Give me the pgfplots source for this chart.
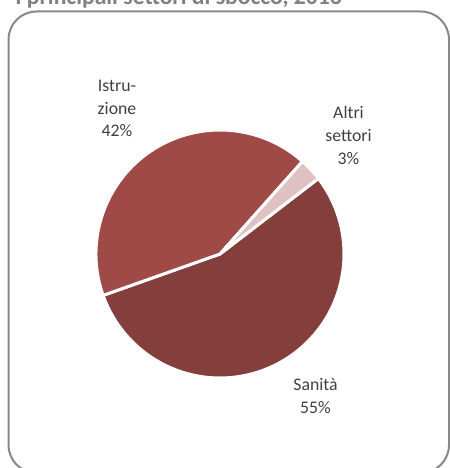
\documentclass[border=0pt]{standalone}
\usepackage{pgfplots}
\pgfplotsset{compat=1.18}
\usepackage{pgfplotstable}
\usepackage{fontspec}
\setmainfont{Carlito}

\definecolor{cSanita}{RGB}{132,63,61}
\definecolor{cIstruzione}{RGB}{159,74,71}
\definecolor{cAltri}{RGB}{224,193,193}
\definecolor{labelgray}{RGB}{64,64,64}
\definecolor{framegray}{RGB}{136,136,136}
\definecolor{titlegray}{RGB}{128,128,128}

% shares in percent, drawn clockwise from the start angle
\pgfplotstableread{
name       value  color
Sanita     55     cSanita
Istruzione 42     cIstruzione
Altri      3      cAltri
}\piedata

\begin{document}
\begin{tikzpicture}
\useasboundingbox (0,0) rectangle (337.5pt,351pt);
\clip (0,0) rectangle (337.5pt,351pt);
\begin{axis}[
  at={(0,0)}, anchor=south west,
  x=0.75pt, y=0.75pt,
  xmin=0, xmax=450, ymin=0, ymax=468,
  enlargelimits=false,
  hide axis, clip=false,
]
\draw[framegray, line width=1.5pt, rounded corners=21pt] (axis cs:8.5,-5) rectangle (axis cs:449,456.5);
\pgfplotsextra{
  \xdef\curang{37.5}
  \pgfplotstablegetrowsof{\piedata}
  \pgfmathtruncatemacro{\nrows}{\pgfplotsretval-1}
  \foreach \i in {0,...,\nrows}{
    \pgfplotstablegetelem{\i}{value}\of\piedata
    \pgfmathsetmacro{\sweep}{3.6*\pgfplotsretval}
    \pgfplotstablegetelem{\i}{color}\of\piedata
    \edef\slicecol{\pgfplotsretval}
    \pgfmathsetmacro{\endang}{\curang-\sweep}
    \fill[fill=\slicecol, draw=white, line width=2.25pt, line join=round]
      (axis cs:220,214) -- (axis cs:{220+124*cos(\curang)},{214+124*sin(\curang)})
      arc[start angle=\curang, end angle=\endang, radius=93pt] -- cycle;
    \xdef\curang{\endang}
  }
}
\node[anchor=base west, inner sep=0, font=\fontsize{17.7}{20}\selectfont\bfseries, text=titlegray] at (axis cs:15,463) {I principali settori di sbocco, 2013};
\node[font=\fontsize{13.3}{17}\selectfont, text=labelgray, align=center] at (axis cs:117,359.5) {Istru-\\zione\\42\%};
\node[font=\fontsize{13.3}{17}\selectfont, text=labelgray, align=center] at (axis cs:348.5,332.5) {Altri\\settori\\3\%};
\node[font=\fontsize{13.3}{17}\selectfont, text=labelgray, align=center] at (axis cs:315.5,72) {Sanità\\55\%};
\end{axis}
\end{tikzpicture}
\end{document}
